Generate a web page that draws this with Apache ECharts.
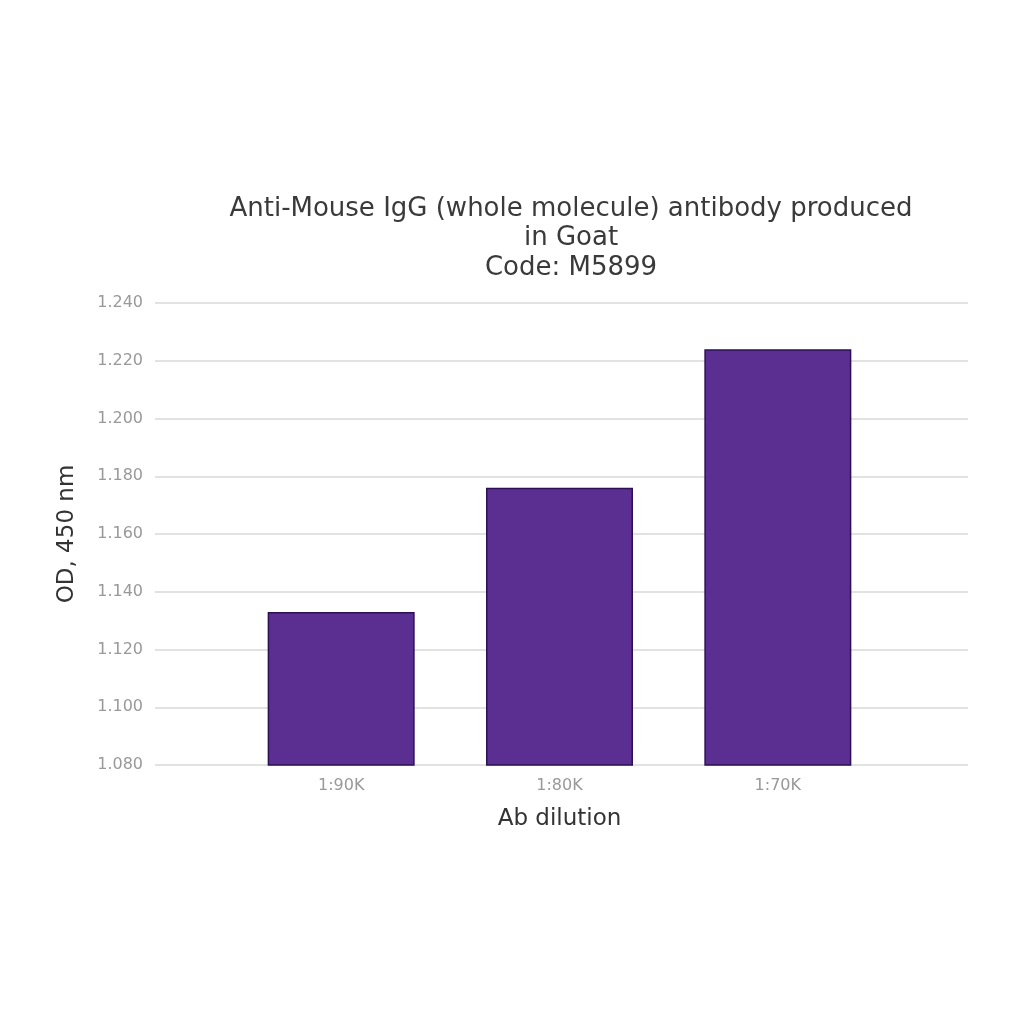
<!DOCTYPE html>
<html><head><meta charset="utf-8">
<script src="https://cdn.jsdelivr.net/npm/echarts@6/dist/echarts.min.js"></script>
<style>html,body{margin:0;padding:0;background:#fff}#c{width:1024px;height:1024px}</style>
</head><body><div id="c"></div>
<script>
const categories = ['1:90K', '1:80K', '1:70K'];
const odValues = [1.133, 1.176, 1.224];
const yMin = 1.08, yMax = 1.24, yStep = 0.02;
const titleText = 'Anti-Mouse IgG (whole molecule) antibody produced\nin Goat\nCode: M5899';

const chart = echarts.init(document.getElementById('c'));
const font = 'DejaVu Sans';
chart.setOption({
  backgroundColor: '#fff',
  animation: false,
  title: {
    text: titleText, left: 566, top: 189, textAlign: 'center',
    textStyle: {fontFamily: font, fontSize: 26, fontWeight: 'normal', color: '#3a3a3a', lineHeight: 29.5}
  },
  grid: [
    {left: 155, right: 56, top: 303, bottom: 259},
    {left: 232, right: 137, top: 303, bottom: 259}
  ],
  xAxis: [
    {gridIndex: 0, type: 'category', data: categories, show: false},
    {gridIndex: 1, type: 'category', data: categories,
     axisLine: {show: false}, axisTick: {show: false},
     axisLabel: {color: '#999', fontFamily: font, fontSize: 16, margin: 13},
     name: 'Ab dilution', nameLocation: 'middle', nameGap: 43,
     nameTextStyle: {color: '#333', fontFamily: font, fontSize: 23}}
  ],
  yAxis: [
    {gridIndex: 0, type: 'value', min: yMin, max: yMax, interval: yStep,
     axisLine: {show: false}, axisTick: {show: false},
     axisLabel: {color: '#999', fontFamily: font, fontSize: 16, margin: 12,
       formatter: v => v.toFixed(3)},
     splitLine: {lineStyle: {color: '#d9d9d9', width: 1.5}},
     name: 'OD, 450 nm', nameLocation: 'middle', nameGap: 76, nameRotate: 90,
     nameTextStyle: {color: '#333', fontFamily: font, fontSize: 23}},
    {gridIndex: 1, type: 'value', min: yMin, max: yMax, interval: yStep, show: false,
     splitLine: {show: false}}
  ],
  series: [{
    type: 'bar', xAxisIndex: 1, yAxisIndex: 1, data: odValues, barWidth: 147,
    itemStyle: {color: '#5b2f91', borderColor: '#2c0f55', borderWidth: 1.5}
  }]
});
</script></body></html>
